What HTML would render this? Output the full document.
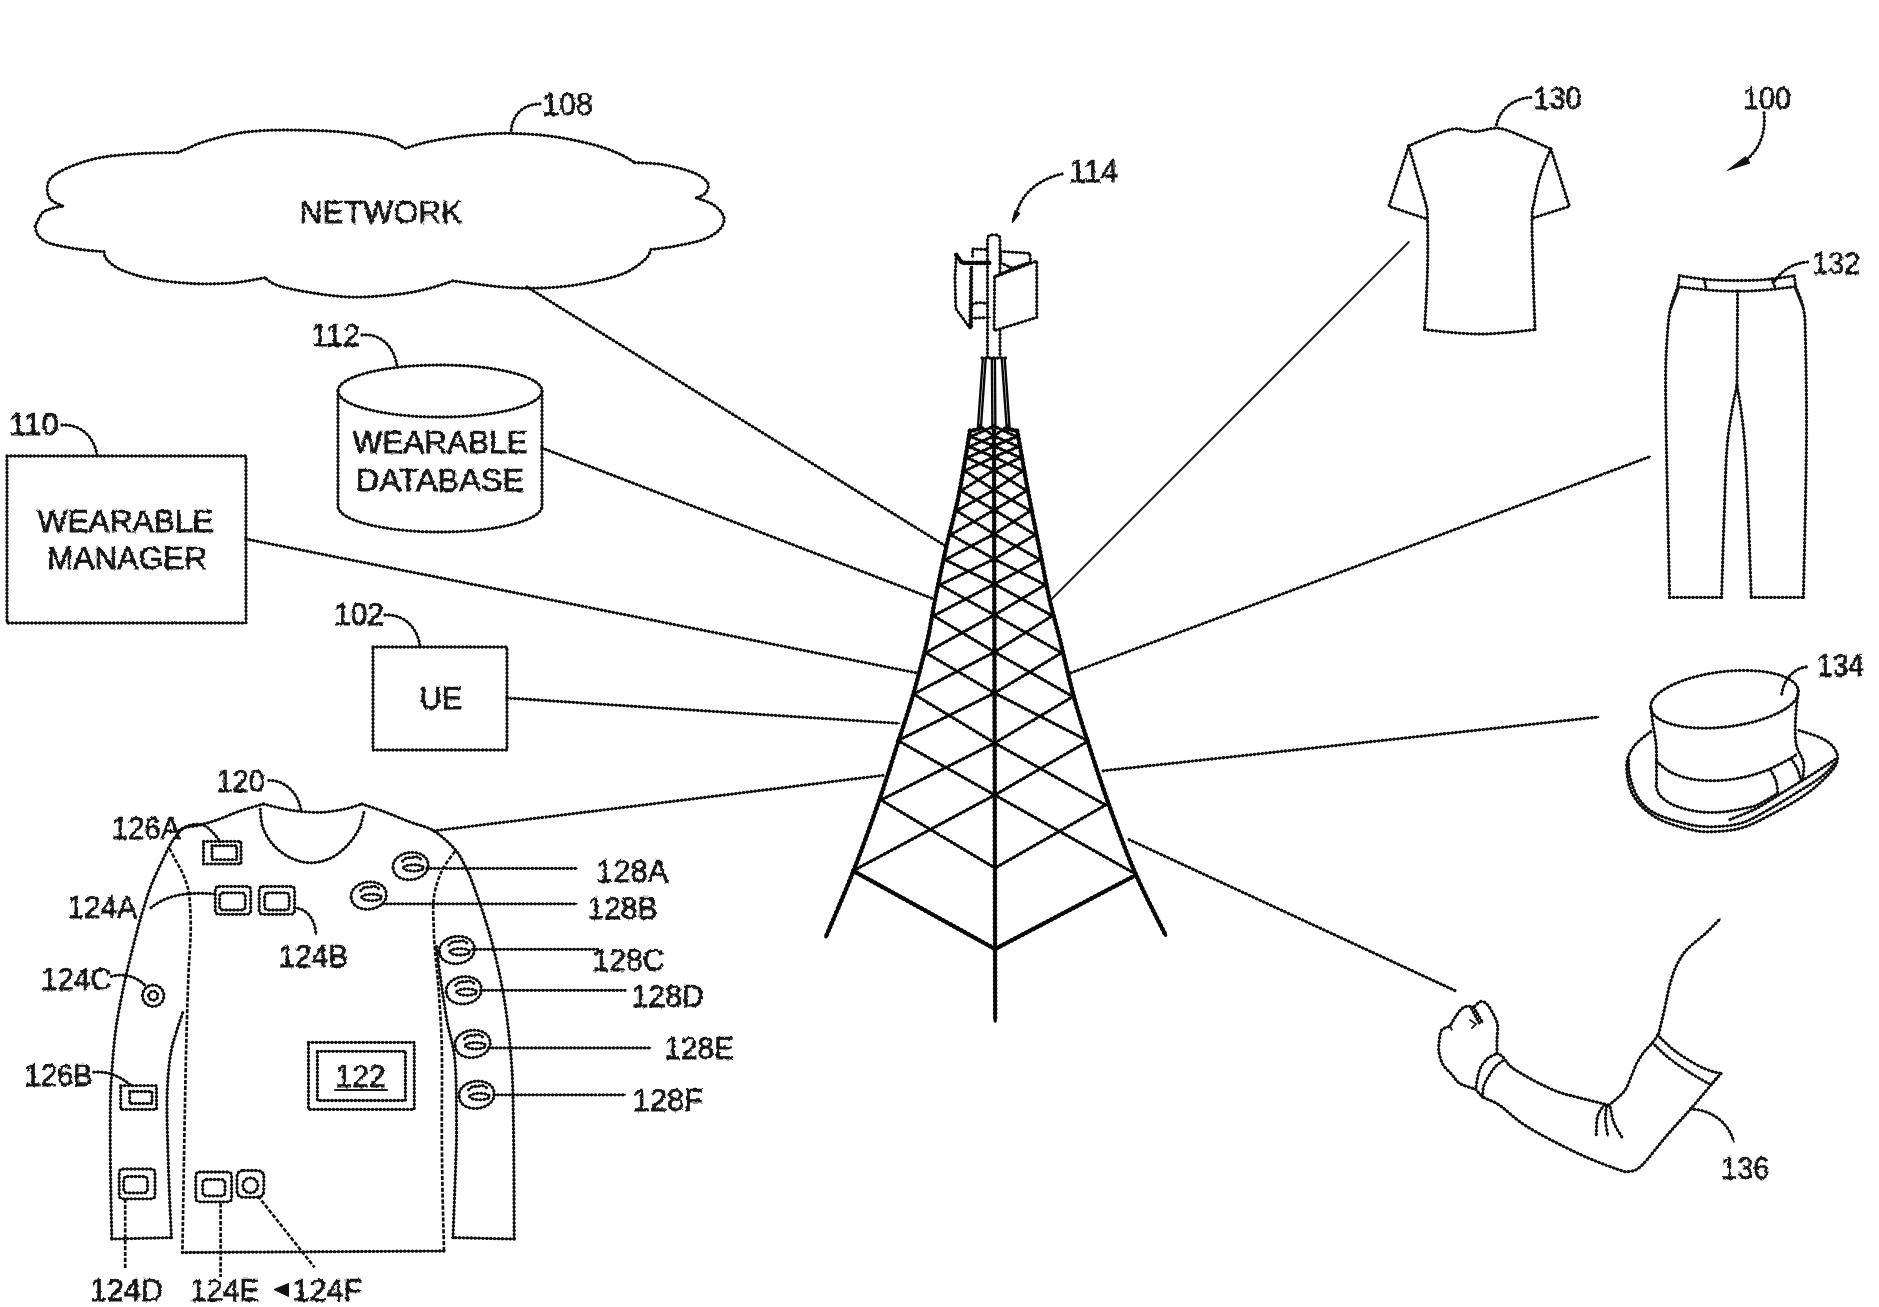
<!DOCTYPE html>
<html lang="en">
<head>
<meta charset="utf-8">
<title>FIG. 1 - wearable device network environment 100</title>
<style>
html,body{margin:0;padding:0;background:#fff;}
body{width:1879px;height:1307px;overflow:hidden;}
svg{display:block;}
.l{fill:none;stroke:#0d0d0d;stroke-width:1.4;stroke-linecap:round;stroke-linejoin:round;}
.lb{fill:none;stroke:#0d0d0d;stroke-width:3.3;stroke-linecap:round;stroke-linejoin:round;stroke-dasharray:0.1 3.8;}
.t{fill:none;stroke:#080808;stroke-width:3.3;stroke-linecap:round;stroke-linejoin:round;}
.tb{fill:none;stroke:#080808;stroke-width:4.7;stroke-linecap:round;stroke-dasharray:0.1 4;}
.m{fill:none;stroke:#080808;stroke-width:2;stroke-linecap:round;stroke-linejoin:round;}
.mb{fill:none;stroke:#080808;stroke-width:3.6;stroke-linecap:round;stroke-dasharray:0.1 3.8;}
.s{fill:none;stroke:#1a1a1a;stroke-width:2;stroke-linecap:round;stroke-linejoin:round;}
.d{fill:none;stroke:#0d0d0d;stroke-width:2.7;stroke-dasharray:4.2 1.7;stroke-linejoin:round;}
.k{fill:#111;stroke:#111;stroke-width:1;stroke-linejoin:round;}
.w{fill:#fff;stroke:#0d0d0d;stroke-width:1.4;stroke-linecap:round;stroke-linejoin:round;}
.u{fill:none;stroke:#0a0a0a;stroke-width:2.4;stroke-linecap:round;stroke-dasharray:5 0.7;}
text{font-family:"Liberation Sans",sans-serif;font-size:31px;fill:#151515;stroke:#151515;stroke-width:0.75;}
</style>
</head>
<body>
<svg width="1879" height="1307" viewBox="0 0 1879 1307">
<defs>
<filter id="rough" x="0" y="0" width="100%" height="100%" filterUnits="userSpaceOnUse" color-interpolation-filters="sRGB">
<feTurbulence type="fractalNoise" baseFrequency="0.3" numOctaves="1" seed="7" result="n"/>
<feDisplacementMap in="SourceGraphic" in2="n" scale="1.6" xChannelSelector="R" yChannelSelector="G"/>
</filter>
<filter id="roughText" x="0" y="0" width="100%" height="100%" filterUnits="userSpaceOnUse" color-interpolation-filters="sRGB">
<feTurbulence type="fractalNoise" baseFrequency="0.33" numOctaves="1" seed="3" result="n"/>
<feDisplacementMap in="SourceGraphic" in2="n" scale="4" xChannelSelector="R" yChannelSelector="G"/>
</filter>
</defs>
<rect x="0" y="0" width="1879" height="1307" fill="#ffffff"/>
<g filter="url(#rough)">
<!-- network cloud 108 -->
<path class="l x" d="M35.2 226.3 C36.4 224.1 39.4 216 42.2 213 C45 210 48.6 209.7 52 208.5 C55.4 207.3 60.8 206.4 62.5 206 M62.5 206 C60.5 204.8 52.8 202.2 50.3 199 C47.8 195.8 46.9 190.5 47.3 186.8 C47.6 183.1 48.5 180.1 52.4 176.7 C56.3 173.3 62.5 169.8 70.6 166.6 C78.7 163.4 89.1 159.7 100.9 157.5 C112.7 155.3 128.5 154.3 141.3 153.5 C154.1 152.7 171.6 152.7 177.7 152.5 M177.7 152.5 C179.4 151.8 183.8 150.1 187.8 148.4 C191.9 146.7 194.6 144.8 202 142.4 C209.4 140.1 222.2 136.3 232.3 134.3 C242.4 132.3 250.9 131.3 262.7 130.6 C274.5 129.9 289.6 129.9 303.1 130.2 C316.6 130.5 330.1 130.8 343.6 132.2 C357.1 133.5 373.7 135.6 384 138.3 C394.3 141 401.8 146.7 405.3 148.4 M405.3 148.4 C409.5 147.2 419.7 143.5 430.6 141.3 C441.6 139.1 457.9 136.6 471 135.3 C484.1 134 495.9 133.1 509.4 133.3 C522.9 133.5 538.1 134.5 551.9 136.3 C565.7 138.2 581.2 141.5 592.3 144.4 C603.4 147.3 611.5 150.5 618.6 153.5 C625.7 156.5 632.1 161.1 634.8 162.6 M634.8 162.6 C639.5 162.9 653.3 162.9 663.1 164.6 C672.9 166.3 686 169.7 693.4 172.7 C700.8 175.7 705.6 179.4 707.6 182.8 C709.6 186.2 707.5 190.4 705.6 192.9 C703.8 195.4 698 197.2 696.5 198 M696.5 198 C699.4 199.2 709.2 201.8 713.7 205 C718.2 208.2 722.8 213.1 723.8 217.2 C724.8 221.2 723.1 225.6 719.7 229.3 C716.3 233 711.4 236.5 703.6 239.4 C695.9 242.3 682 244.8 673.2 246.5 C664.4 248.2 654.7 249 651 249.5 M651 249.5 C650 251.2 649.6 255.6 644.9 259.6 C640.2 263.7 633.2 269.8 622.7 273.8 C612.2 277.9 595.7 281.5 582.2 283.9 C568.7 286.3 555.3 287.5 541.8 288 C528.3 288.5 516.1 288.1 501.3 286.9 C486.5 285.7 460.9 281.9 452.8 280.9 M452.8 280.9 C449.1 282.1 439.4 285.8 430.6 288 C421.8 290.2 413 292.5 400.2 294 C387.4 295.5 368.2 297.3 353.7 297.1 C339.2 296.9 325.7 294.9 313.2 293 C300.7 291.1 287 288.4 278.9 285.9 C270.8 283.4 267.1 279.1 264.7 277.8 M264.7 277.8 C259.3 278.6 244.4 281.9 232.3 282.9 C220.2 283.8 205.4 284.2 191.9 283.5 C178.4 282.8 163.2 281.2 151.4 278.9 C139.6 276.6 128.5 273 121.1 269.8 C113.7 266.6 109.9 262.6 107 259.6 C104.1 256.6 104.4 252.9 103.9 251.6 M103.9 251.6 C100 251.2 89.6 250.8 80.7 249.5 C71.8 248.2 57.4 245.8 50.3 243.5 C43.2 241.2 40.7 238.3 38.2 235.4 C35.7 232.5 35.7 227.8 35.2 226.3"/>
<path class="lb" d="M35.2 226.3 C36.4 224.1 39.4 216 42.2 213 C45 210 48.6 209.7 52 208.5 C55.4 207.3 60.8 206.4 62.5 206 M62.5 206 C60.5 204.8 52.8 202.2 50.3 199 C47.8 195.8 46.9 190.5 47.3 186.8 C47.6 183.1 48.5 180.1 52.4 176.7 C56.3 173.3 62.5 169.8 70.6 166.6 C78.7 163.4 89.1 159.7 100.9 157.5 C112.7 155.3 128.5 154.3 141.3 153.5 C154.1 152.7 171.6 152.7 177.7 152.5 M177.7 152.5 C179.4 151.8 183.8 150.1 187.8 148.4 C191.9 146.7 194.6 144.8 202 142.4 C209.4 140.1 222.2 136.3 232.3 134.3 C242.4 132.3 250.9 131.3 262.7 130.6 C274.5 129.9 289.6 129.9 303.1 130.2 C316.6 130.5 330.1 130.8 343.6 132.2 C357.1 133.5 373.7 135.6 384 138.3 C394.3 141 401.8 146.7 405.3 148.4 M405.3 148.4 C409.5 147.2 419.7 143.5 430.6 141.3 C441.6 139.1 457.9 136.6 471 135.3 C484.1 134 495.9 133.1 509.4 133.3 C522.9 133.5 538.1 134.5 551.9 136.3 C565.7 138.2 581.2 141.5 592.3 144.4 C603.4 147.3 611.5 150.5 618.6 153.5 C625.7 156.5 632.1 161.1 634.8 162.6 M634.8 162.6 C639.5 162.9 653.3 162.9 663.1 164.6 C672.9 166.3 686 169.7 693.4 172.7 C700.8 175.7 705.6 179.4 707.6 182.8 C709.6 186.2 707.5 190.4 705.6 192.9 C703.8 195.4 698 197.2 696.5 198 M696.5 198 C699.4 199.2 709.2 201.8 713.7 205 C718.2 208.2 722.8 213.1 723.8 217.2 C724.8 221.2 723.1 225.6 719.7 229.3 C716.3 233 711.4 236.5 703.6 239.4 C695.9 242.3 682 244.8 673.2 246.5 C664.4 248.2 654.7 249 651 249.5 M651 249.5 C650 251.2 649.6 255.6 644.9 259.6 C640.2 263.7 633.2 269.8 622.7 273.8 C612.2 277.9 595.7 281.5 582.2 283.9 C568.7 286.3 555.3 287.5 541.8 288 C528.3 288.5 516.1 288.1 501.3 286.9 C486.5 285.7 460.9 281.9 452.8 280.9 M452.8 280.9 C449.1 282.1 439.4 285.8 430.6 288 C421.8 290.2 413 292.5 400.2 294 C387.4 295.5 368.2 297.3 353.7 297.1 C339.2 296.9 325.7 294.9 313.2 293 C300.7 291.1 287 288.4 278.9 285.9 C270.8 283.4 267.1 279.1 264.7 277.8 M264.7 277.8 C259.3 278.6 244.4 281.9 232.3 282.9 C220.2 283.8 205.4 284.2 191.9 283.5 C178.4 282.8 163.2 281.2 151.4 278.9 C139.6 276.6 128.5 273 121.1 269.8 C113.7 266.6 109.9 262.6 107 259.6 C104.1 256.6 104.4 252.9 103.9 251.6 M103.9 251.6 C100 251.2 89.6 250.8 80.7 249.5 C71.8 248.2 57.4 245.8 50.3 243.5 C43.2 241.2 40.7 238.3 38.2 235.4 C35.7 232.5 35.7 227.8 35.2 226.3"/>
<path class="l x" d="M540 104 C524 104 512 114 511 132"/>
<path class="lb" d="M540 104 C524 104 512 114 511 132"/>
<!-- wearable database 112 -->
<path class="l x" d="M338 391 A102 26 0 1 0 542 391 A102 26 0 1 0 338 391Z"/>
<path class="lb" d="M338 391 A102 26 0 1 0 542 391 A102 26 0 1 0 338 391Z"/>
<path class="l x" d="M338 391 L338 506 A102 26 0 0 0 542 506 L542 391"/>
<path class="lb" d="M338 391 L338 506 A102 26 0 0 0 542 506 L542 391"/>
<path class="l x" d="M362 335 C380 333 394 346 397 366"/>
<path class="lb" d="M362 335 C380 333 394 346 397 366"/>
<!-- wearable manager 110 -->
<path class="l x" d="M7 456 H246 V623 H7Z"/>
<path class="lb" d="M7 456 H246 V623 H7Z"/>
<path class="l x" d="M62 425 C80 424 94 436 97 455"/>
<path class="lb" d="M62 425 C80 424 94 436 97 455"/>
<!-- user equipment 102 -->
<path class="l x" d="M373 647 H507 V750 H373Z"/>
<path class="lb" d="M373 647 H507 V750 H373Z"/>
<path class="l x" d="M385 615 C403 614 417 626 420 646"/>
<path class="lb" d="M385 615 C403 614 417 626 420 646"/>
<!-- communication links -->
<path class="l x" d="M527 287 L945.6 546"/>
<path class="lb" d="M527 287 L945.6 546"/>
<path class="l x" d="M542 448 L934.9 599.5"/>
<path class="lb" d="M542 448 L934.9 599.5"/>
<path class="l x" d="M246 539 L916.5 672.9"/>
<path class="lb" d="M246 539 L916.5 672.9"/>
<path class="l x" d="M507 698 L899.7 723.4"/>
<path class="lb" d="M507 698 L899.7 723.4"/>
<path class="l x" d="M433.8 830.9 L882.8 775.4"/>
<path class="lb" d="M433.8 830.9 L882.8 775.4"/>
<path class="s" d="M1051.2 599.5 L1408.8 242"/>
<path class="l x" d="M1071 672.9 L1650.3 456.5"/>
<path class="lb" d="M1071 672.9 L1650.3 456.5"/>
<path class="l x" d="M1103.2 770.8 L1598.7 717"/>
<path class="lb" d="M1103.2 770.8 L1598.7 717"/>
<path class="l x" d="M1129.2 839.7 L1454.8 990.5"/>
<path class="lb" d="M1129.2 839.7 L1454.8 990.5"/>
<!-- cell tower 114 -->
<path class="t x" d="M970 431 C968.1 441.8 962.5 476.8 958.6 496 C954.7 515.2 950.4 528.7 946.5 546 C942.6 563.3 938.2 584.3 935 600 C931.8 615.7 931.1 624.2 927.5 640 C923.9 655.8 918 677.7 913.2 694.5 C908.4 711.3 904.2 723.2 898.5 741 C892.8 758.8 886.5 779.4 879 801 C871.5 822.6 862.5 847.9 853.6 870.5 C844.8 893.1 830.5 925.8 825.9 936.8"/>
<path class="tb" d="M970 431 C968.1 441.8 962.5 476.8 958.6 496 C954.7 515.2 950.4 528.7 946.5 546 C942.6 563.3 938.2 584.3 935 600 C931.8 615.7 931.1 624.2 927.5 640 C923.9 655.8 918 677.7 913.2 694.5 C908.4 711.3 904.2 723.2 898.5 741 C892.8 758.8 886.5 779.4 879 801 C871.5 822.6 862.5 847.9 853.6 870.5 C844.8 893.1 830.5 925.8 825.9 936.8"/>
<path class="t x" d="M1017.2 431 C1019.2 441.8 1025.2 476.5 1028.9 496 C1032.6 515.5 1035.8 530.7 1039.3 548 C1042.8 565.3 1046.2 584.7 1049.7 600 C1053.2 615.3 1056 623.9 1060 640 C1064 656.1 1069.2 679.8 1073.8 696.6 C1078.4 713.4 1081.6 722.9 1087.5 741 C1093.4 759.1 1101.1 783.1 1109 805 C1116.9 826.9 1125.6 850.9 1135 872.6 C1144.4 894.3 1160.5 924.8 1165.6 935.3"/>
<path class="tb" d="M1017.2 431 C1019.2 441.8 1025.2 476.5 1028.9 496 C1032.6 515.5 1035.8 530.7 1039.3 548 C1042.8 565.3 1046.2 584.7 1049.7 600 C1053.2 615.3 1056 623.9 1060 640 C1064 656.1 1069.2 679.8 1073.8 696.6 C1078.4 713.4 1081.6 722.9 1087.5 741 C1093.4 759.1 1101.1 783.1 1109 805 C1116.9 826.9 1125.6 850.9 1135 872.6 C1144.4 894.3 1160.5 924.8 1165.6 935.3"/>
<path class="t x" d="M994 431 L995.2 1021"/>
<path class="tb" d="M994 431 L995.2 1021"/>
<path class="m x" d="M979.6 426 L994 436"/>
<path class="mb" d="M979.6 426 L994 436"/>
<path class="m x" d="M994 426 L969.1 437.5"/>
<path class="mb" d="M994 426 L969.1 437.5"/>
<path class="m x" d="M1007.9 426 L994 436"/>
<path class="mb" d="M1007.9 426 L994 436"/>
<path class="m x" d="M994 426 L1018.1 437.5"/>
<path class="mb" d="M994 426 L1018.1 437.5"/>
<path class="m x" d="M969.1 436 L994 446"/>
<path class="mb" d="M969.1 436 L994 446"/>
<path class="m x" d="M994 436 L967.4 447.5"/>
<path class="mb" d="M994 436 L967.4 447.5"/>
<path class="m x" d="M1018.1 436 L994 446"/>
<path class="mb" d="M1018.1 436 L994 446"/>
<path class="m x" d="M994 436 L1019.9 447.5"/>
<path class="mb" d="M994 436 L1019.9 447.5"/>
<path class="m x" d="M967.4 446 L994.1 457"/>
<path class="mb" d="M967.4 446 L994.1 457"/>
<path class="m x" d="M994 446 L965.4 458.5"/>
<path class="mb" d="M994 446 L965.4 458.5"/>
<path class="m x" d="M1019.9 446 L994.1 457"/>
<path class="mb" d="M1019.9 446 L994.1 457"/>
<path class="m x" d="M994 446 L1021.9 458.5"/>
<path class="mb" d="M994 446 L1021.9 458.5"/>
<path class="m x" d="M965.4 457 L994.1 470"/>
<path class="mb" d="M965.4 457 L994.1 470"/>
<path class="m x" d="M994.1 457 L963.2 471.5"/>
<path class="mb" d="M994.1 457 L963.2 471.5"/>
<path class="m x" d="M1021.9 457 L994.1 470"/>
<path class="mb" d="M1021.9 457 L994.1 470"/>
<path class="m x" d="M994.1 457 L1024.2 471.5"/>
<path class="mb" d="M994.1 457 L1024.2 471.5"/>
<path class="m x" d="M963.2 470 L994.1 490"/>
<path class="mb" d="M963.2 470 L994.1 490"/>
<path class="m x" d="M994.1 470 L959.7 491.5"/>
<path class="mb" d="M994.1 470 L959.7 491.5"/>
<path class="m x" d="M1024.2 470 L994.1 490"/>
<path class="mb" d="M1024.2 470 L994.1 490"/>
<path class="m x" d="M994.1 470 L1027.8 491.5"/>
<path class="mb" d="M994.1 470 L1027.8 491.5"/>
<path class="m x" d="M959.7 490 L994.2 510"/>
<path class="mb" d="M959.7 490 L994.2 510"/>
<path class="m x" d="M994.1 490 L955.2 511.5"/>
<path class="mb" d="M994.1 490 L955.2 511.5"/>
<path class="m x" d="M1027.8 490 L994.2 510"/>
<path class="mb" d="M1027.8 490 L994.2 510"/>
<path class="m x" d="M994.1 490 L1031.7 511.5"/>
<path class="mb" d="M994.1 490 L1031.7 511.5"/>
<path class="m x" d="M955.2 510 L994.2 534"/>
<path class="mb" d="M955.2 510 L994.2 534"/>
<path class="m x" d="M994.2 510 L949.4 535.5"/>
<path class="mb" d="M994.2 510 L949.4 535.5"/>
<path class="m x" d="M1031.7 510 L994.2 534"/>
<path class="mb" d="M1031.7 510 L994.2 534"/>
<path class="m x" d="M994.2 510 L1036.5 535.5"/>
<path class="mb" d="M994.2 510 L1036.5 535.5"/>
<path class="m x" d="M949.4 534 L994.3 559"/>
<path class="mb" d="M949.4 534 L994.3 559"/>
<path class="m x" d="M994.2 534 L943.7 560.5"/>
<path class="mb" d="M994.2 534 L943.7 560.5"/>
<path class="m x" d="M1036.5 534 L994.3 559"/>
<path class="mb" d="M1036.5 534 L994.3 559"/>
<path class="m x" d="M994.2 534 L1041.5 560.5"/>
<path class="mb" d="M994.2 534 L1041.5 560.5"/>
<path class="m x" d="M943.7 559 L994.4 584"/>
<path class="mb" d="M943.7 559 L994.4 584"/>
<path class="m x" d="M994.3 559 L938.4 585.5"/>
<path class="mb" d="M994.3 559 L938.4 585.5"/>
<path class="m x" d="M1041.5 559 L994.4 584"/>
<path class="mb" d="M1041.5 559 L994.4 584"/>
<path class="m x" d="M994.3 559 L1046.5 585.5"/>
<path class="mb" d="M994.3 559 L1046.5 585.5"/>
<path class="m x" d="M938.4 584 L994.4 615"/>
<path class="mb" d="M938.4 584 L994.4 615"/>
<path class="m x" d="M994.4 584 L932.2 616.5"/>
<path class="mb" d="M994.4 584 L932.2 616.5"/>
<path class="m x" d="M1046.5 584 L994.4 615"/>
<path class="mb" d="M1046.5 584 L994.4 615"/>
<path class="m x" d="M994.4 584 L1053.6 616.5"/>
<path class="mb" d="M994.4 584 L1053.6 616.5"/>
<path class="m x" d="M932.2 615 L994.5 652"/>
<path class="mb" d="M932.2 615 L994.5 652"/>
<path class="m x" d="M994.4 615 L924.4 653.5"/>
<path class="mb" d="M994.4 615 L924.4 653.5"/>
<path class="m x" d="M1053.6 615 L994.5 652"/>
<path class="mb" d="M1053.6 615 L994.5 652"/>
<path class="m x" d="M994.4 615 L1062.9 653.5"/>
<path class="mb" d="M994.4 615 L1062.9 653.5"/>
<path class="m x" d="M924.4 652 L994.6 693"/>
<path class="mb" d="M924.4 652 L994.6 693"/>
<path class="m x" d="M994.5 652 L913.6 694"/>
<path class="mb" d="M994.5 652 L913.6 694"/>
<path class="m x" d="M1062.9 652 L994.6 693"/>
<path class="mb" d="M1062.9 652 L994.6 693"/>
<path class="m x" d="M994.5 652 L1072.9 696.6"/>
<path class="mb" d="M994.5 652 L1072.9 696.6"/>
<path class="m x" d="M913.6 694 L994.7 743"/>
<path class="mb" d="M913.6 694 L994.7 743"/>
<path class="m x" d="M994.6 693 L897.9 740.5"/>
<path class="mb" d="M994.6 693 L897.9 740.5"/>
<path class="m x" d="M1072.9 696.6 L994.7 743"/>
<path class="mb" d="M1072.9 696.6 L994.7 743"/>
<path class="m x" d="M994.6 693 L1088.2 741"/>
<path class="mb" d="M994.6 693 L1088.2 741"/>
<path class="m x" d="M897.9 740.5 L994.8 795"/>
<path class="mb" d="M897.9 740.5 L994.8 795"/>
<path class="m x" d="M994.7 743 L881 800"/>
<path class="mb" d="M994.7 743 L881 800"/>
<path class="m x" d="M1088.2 741 L994.8 795"/>
<path class="mb" d="M1088.2 741 L994.8 795"/>
<path class="m x" d="M994.7 743 L1105.6 805"/>
<path class="mb" d="M994.7 743 L1105.6 805"/>
<path class="m x" d="M881 800 L995 868"/>
<path class="mb" d="M881 800 L995 868"/>
<path class="m x" d="M994.8 795 L854.5 870"/>
<path class="mb" d="M994.8 795 L854.5 870"/>
<path class="m x" d="M1105.6 805 L995 868"/>
<path class="mb" d="M1105.6 805 L995 868"/>
<path class="m x" d="M994.8 795 L1133.2 872.6"/>
<path class="mb" d="M994.8 795 L1133.2 872.6"/>
<path class="t x" d="M853.4 871 L995.1 949 L1135 875.6"/>
<path class="tb" d="M853.4 871 L995.1 949 L1135 875.6"/>
<path class="t x" d="M970 431 L979 429 M1008 429 L1017.2 431"/>
<path class="tb" d="M970 431 L979 429 M1008 429 L1017.2 431"/>
<path class="u" d="M985.7 359 L980.8 429"/>
<path class="u" d="M982.8 359 L977.8 429"/>
<path class="u" d="M994.9 359 L995.4 429"/>
<path class="u" d="M991.9 359 L992.4 429"/>
<path class="u" d="M1004.7 359 L1009.7 429"/>
<path class="u" d="M1001.8 359 L1006.8 429"/>
<path class="l x" d="M982 358 L1006 358"/>
<path class="lb" d="M982 358 L1006 358"/>
<path class="l x" d="M972.6 256 L972.6 248.8 L987.5 249.6 M972.6 304.2 Q980 301 987.5 304.2 M971.7 318.3 L990.2 317.4"/>
<path class="lb" d="M972.6 256 L972.6 248.8 L987.5 249.6 M972.6 304.2 Q980 301 987.5 304.2 M971.7 318.3 L990.2 317.4"/>
<path class="l x" d="M987.5 357 L987.5 239 Q987.5 234.7 993.7 234.7 Q1000 234.7 1000 239 L1000 357"/>
<path class="lb" d="M987.5 357 L987.5 239 Q987.5 234.7 993.7 234.7 Q1000 234.7 1000 239 L1000 357"/>
<path class="l x" d="M956.3 254.9 L955 277.8 L955.8 308.6 L969.9 328 L970.8 267.3"/>
<path class="lb" d="M956.3 254.9 L955 277.8 L955.8 308.6 L969.9 328 L970.8 267.3"/>
<path class="l x" d="M971.6 267.3 L971.6 328"/>
<path class="lb" d="M971.6 267.3 L971.6 328"/>
<path class="t x" d="M956.3 254.9 L962 262.9 L989.3 262.9"/>
<path class="tb" d="M956.3 254.9 L962 262.9 L989.3 262.9"/>
<path class="w x" d="M994.6 277 L1036.8 261 L1036.8 317.4 L999.9 328.9 L994.1 330.6 Z"/>
<path class="lb" d="M994.6 277 L1036.8 261 L1036.8 317.4 L999.9 328.9 L994.1 330.6 Z"/>
<path class="l x" d="M1000.7 251.4 L1029.8 253.2 L1030.7 262.9 M1000.7 262.9 L1012.2 268.2 L1031 262 M996 276 L1006.5 271.5 L1012.2 268.2"/>
<path class="lb" d="M1000.7 251.4 L1029.8 253.2 L1030.7 262.9 M1000.7 262.9 L1012.2 268.2 L1031 262 M996 276 L1006.5 271.5 L1012.2 268.2"/>
<path class="l x" d="M1000.7 251.4 L1000.7 262.9"/>
<path class="lb" d="M1000.7 251.4 L1000.7 262.9"/>
<path class="l x" d="M1062 174 C1043 178 1024 190 1017.5 210"/>
<path class="lb" d="M1062 174 C1043 178 1024 190 1017.5 210"/>
<path class="k" d="M1012.3 222.5 L1014.8 210.5 L1020 213.5Z"/>
<path class="l x" d="M1016.5 212 L1012.5 222"/>
<path class="lb" d="M1016.5 212 L1012.5 222"/>
<!-- smart shirt 120 -->
<path class="l x" d="M263.5 804 C266.6 804.8 275.9 807.3 282 808.5 C288.1 809.7 293.3 810.8 300 811.4 C306.7 812 314.5 812.7 322 812.3 C329.5 811.9 338.3 810.4 345 809 C351.7 807.6 359.2 804.8 362 804"/>
<path class="lb" d="M263.5 804 C266.6 804.8 275.9 807.3 282 808.5 C288.1 809.7 293.3 810.8 300 811.4 C306.7 812 314.5 812.7 322 812.3 C329.5 811.9 338.3 810.4 345 809 C351.7 807.6 359.2 804.8 362 804"/>
<path class="l x" d="M260.3 809.3 C260.8 812.4 260.7 821.9 263 828 C265.3 834.1 269.3 840.7 274 845.7 C278.7 850.7 284.9 855.1 291 858 C297.1 860.9 304 862.8 310.7 862.8 C317.4 862.8 324.9 860.9 331 858 C337.1 855.1 342.3 850.5 347 845.7 C351.7 840.9 356.1 834.7 359 829 C361.9 823.3 363.3 814.3 364.2 811.4"/>
<path class="lb" d="M260.3 809.3 C260.8 812.4 260.7 821.9 263 828 C265.3 834.1 269.3 840.7 274 845.7 C278.7 850.7 284.9 855.1 291 858 C297.1 860.9 304 862.8 310.7 862.8 C317.4 862.8 324.9 860.9 331 858 C337.1 855.1 342.3 850.5 347 845.7 C351.7 840.9 356.1 834.7 359 829 C361.9 823.3 363.3 814.3 364.2 811.4"/>
<path class="l x" d="M263.5 804 C259.6 805.2 247.8 808.3 240 811 C232.2 813.7 224 817.6 217 820 C210 822.4 203.5 824.2 198 825.5 C192.5 826.8 187.7 826.2 184 828 C180.3 829.8 178.5 832.8 176 836 C173.5 839.2 172 841.3 169 847 C166 852.7 161.2 863.1 158 870 C154.8 876.9 152.5 881.8 150 888.5 C147.5 895.2 145.2 902.9 143 910 C140.8 917.1 139.8 920.7 137 931.4 C134.2 942.1 129.4 960.9 126.4 974 C123.4 987.1 121 999 119 1010 C117 1021 115.8 1028.3 114.5 1040 C113.2 1051.7 112 1068.4 111.3 1080 C110.6 1091.6 110.4 1094.4 110.3 1109.4 C110.2 1124.4 110.2 1148.4 110.5 1170 C110.8 1191.6 111.6 1227.5 111.8 1239"/>
<path class="lb" d="M263.5 804 C259.6 805.2 247.8 808.3 240 811 C232.2 813.7 224 817.6 217 820 C210 822.4 203.5 824.2 198 825.5 C192.5 826.8 187.7 826.2 184 828 C180.3 829.8 178.5 832.8 176 836 C173.5 839.2 172 841.3 169 847 C166 852.7 161.2 863.1 158 870 C154.8 876.9 152.5 881.8 150 888.5 C147.5 895.2 145.2 902.9 143 910 C140.8 917.1 139.8 920.7 137 931.4 C134.2 942.1 129.4 960.9 126.4 974 C123.4 987.1 121 999 119 1010 C117 1021 115.8 1028.3 114.5 1040 C113.2 1051.7 112 1068.4 111.3 1080 C110.6 1091.6 110.4 1094.4 110.3 1109.4 C110.2 1124.4 110.2 1148.4 110.5 1170 C110.8 1191.6 111.6 1227.5 111.8 1239"/>
<path class="l x" d="M111.8 1239 L171.4 1237.6"/>
<path class="lb" d="M111.8 1239 L171.4 1237.6"/>
<path class="l x" d="M171.4 1237.6 C170.9 1226.3 169.2 1191.4 168.5 1170 C167.8 1148.6 167.1 1125.2 167 1109.4 C166.9 1093.6 167.5 1084.9 168.2 1075 C168.9 1065.1 170.1 1056.8 171.4 1049.8 C172.7 1042.8 174.1 1039.3 176 1033 C177.9 1026.7 181.8 1015.5 183 1012"/>
<path class="lb" d="M171.4 1237.6 C170.9 1226.3 169.2 1191.4 168.5 1170 C167.8 1148.6 167.1 1125.2 167 1109.4 C166.9 1093.6 167.5 1084.9 168.2 1075 C168.9 1065.1 170.1 1056.8 171.4 1049.8 C172.7 1042.8 174.1 1039.3 176 1033 C177.9 1026.7 181.8 1015.5 183 1012"/>
<path class="d" d="M169.5 848.5 C170.6 850.6 173.9 857.1 176 861 C178.1 864.9 180.2 868 182 872 C183.8 876 185.7 880.5 187 885 C188.3 889.5 189 891.3 189.6 899 C190.2 906.7 190.9 918.9 190.7 931.4 C190.5 943.9 189.2 956.1 188.5 974 C187.8 991.9 187.1 1012.5 186.4 1038.5 C185.7 1064.5 185.2 1094.3 184.5 1130 C183.8 1165.7 182.8 1232.1 182.4 1252.5"/>
<path class="l x" d="M182.4 1252.5 L444 1251"/>
<path class="lb" d="M182.4 1252.5 L444 1251"/>
<path class="d" d="M444 1251 C443.8 1240.8 442.9 1210.5 442.5 1190 C442.1 1169.5 441.9 1151.7 441.8 1128 C441.7 1104.3 442.3 1070.2 441.8 1047.9 C441.3 1025.6 440.1 1010.6 439 994.3 C437.9 978 435.9 960.7 435 950 C434.1 939.3 434 938.7 433.8 930 C433.6 921.3 432.5 907.7 433.8 897.9 C435.1 888.1 438.2 878.8 441.8 871 C445.4 863.2 453 854.3 455.2 851"/>
<path class="l x" d="M362 804 C365.8 805.3 377 809 385 812 C393 815 401.9 818.9 410 822 C418.1 825.1 426.3 826.3 433.8 830.9 C441.3 835.5 449.8 843.4 455.2 849.6 C460.6 855.8 462.9 861.8 466 868 C469.1 874.2 470 875.8 474 887 C478 898.2 485.1 917.5 490 935.4 C494.9 953.3 499.8 973.3 503.4 994.3 C507 1015.3 509.7 1039 511.4 1061.3 C513.1 1083.6 513 1098.4 513.5 1128 C514 1157.6 514.1 1220.5 514.2 1239"/>
<path class="lb" d="M362 804 C365.8 805.3 377 809 385 812 C393 815 401.9 818.9 410 822 C418.1 825.1 426.3 826.3 433.8 830.9 C441.3 835.5 449.8 843.4 455.2 849.6 C460.6 855.8 462.9 861.8 466 868 C469.1 874.2 470 875.8 474 887 C478 898.2 485.1 917.5 490 935.4 C494.9 953.3 499.8 973.3 503.4 994.3 C507 1015.3 509.7 1039 511.4 1061.3 C513.1 1083.6 513 1098.4 513.5 1128 C514 1157.6 514.1 1220.5 514.2 1239"/>
<path class="l x" d="M514.2 1239 L453 1237.6"/>
<path class="lb" d="M514.2 1239 L453 1237.6"/>
<path class="l x" d="M453 1237.6 C453.4 1226.3 454.9 1188.3 455.5 1170 C456.1 1151.7 456.6 1146.2 456.5 1128 C456.4 1109.8 456.6 1078.8 455 1061 C453.4 1043.2 449.5 1035.3 447 1021 C444.5 1006.7 441.8 987.5 440 975 C438.2 962.5 437 950.8 436.4 946"/>
<path class="lb" d="M453 1237.6 C453.4 1226.3 454.9 1188.3 455.5 1170 C456.1 1151.7 456.6 1146.2 456.5 1128 C456.4 1109.8 456.6 1078.8 455 1061 C453.4 1043.2 449.5 1035.3 447 1021 C444.5 1006.7 441.8 987.5 440 975 C438.2 962.5 437 950.8 436.4 946"/>
<!-- display 122 -->
<path class="l x" d="M308.5 1042.4 H414.3 V1109.4 H308.5Z"/>
<path class="lb" d="M308.5 1042.4 H414.3 V1109.4 H308.5Z"/>
<path class="l x" d="M317.4 1051.3 H405.4 V1100.5 H317.4Z"/>
<path class="lb" d="M317.4 1051.3 H405.4 V1100.5 H317.4Z"/>
<path class="s" d="M335 1090 L387 1090"/>
<!-- sensors 124 / 126 -->
<path class="l x" d="M203.5 841.4 H241 V863.9 H203.5Z"/>
<path class="lb" d="M203.5 841.4 H241 V863.9 H203.5Z"/>
<path class="l x" d="M212 845.7 H236.7 V859.6 H212Z"/>
<path class="lb" d="M212 845.7 H236.7 V859.6 H212Z"/>
<path class="l x" d="M219.3 886.4 H246.7 Q250.7 886.4 250.7 890.4 V910.3 Q250.7 914.3 246.7 914.3 H219.3 Q215.3 914.3 215.3 910.3 V890.4 Q215.3 886.4 219.3 886.4Z"/>
<path class="lb" d="M219.3 886.4 H246.7 Q250.7 886.4 250.7 890.4 V910.3 Q250.7 914.3 246.7 914.3 H219.3 Q215.3 914.3 215.3 910.3 V890.4 Q215.3 886.4 219.3 886.4Z"/>
<path class="l x" d="M223.6 892.8 H241.3 Q245.3 892.8 245.3 896.8 V906 Q245.3 910 241.3 910 H223.6 Q219.6 910 219.6 906 V896.8 Q219.6 892.8 223.6 892.8Z"/>
<path class="lb" d="M223.6 892.8 H241.3 Q245.3 892.8 245.3 896.8 V906 Q245.3 910 241.3 910 H223.6 Q219.6 910 219.6 906 V896.8 Q219.6 892.8 223.6 892.8Z"/>
<path class="l x" d="M263.2 886.4 H290.6 Q294.6 886.4 294.6 890.4 V910.3 Q294.6 914.3 290.6 914.3 H263.2 Q259.2 914.3 259.2 910.3 V890.4 Q259.2 886.4 263.2 886.4Z"/>
<path class="lb" d="M263.2 886.4 H290.6 Q294.6 886.4 294.6 890.4 V910.3 Q294.6 914.3 290.6 914.3 H263.2 Q259.2 914.3 259.2 910.3 V890.4 Q259.2 886.4 263.2 886.4Z"/>
<path class="l x" d="M268.6 892.8 H285.2 Q289.2 892.8 289.2 896.8 V906 Q289.2 910 285.2 910 H268.6 Q264.6 910 264.6 906 V896.8 Q264.6 892.8 268.6 892.8Z"/>
<path class="lb" d="M268.6 892.8 H285.2 Q289.2 892.8 289.2 896.8 V906 Q289.2 910 285.2 910 H268.6 Q264.6 910 264.6 906 V896.8 Q264.6 892.8 268.6 892.8Z"/>
<path class="l x" d="M123.2 1169 H151 Q155 1169 155 1173 V1194.8 Q155 1198.8 151 1198.8 H123.2 Q119.2 1198.8 119.2 1194.8 V1173 Q119.2 1169 123.2 1169Z"/>
<path class="lb" d="M123.2 1169 H151 Q155 1169 155 1173 V1194.8 Q155 1198.8 151 1198.8 H123.2 Q119.2 1198.8 119.2 1194.8 V1173 Q119.2 1169 123.2 1169Z"/>
<path class="l x" d="M127.7 1176.5 H143.5 Q147.5 1176.5 147.5 1180.5 V1188.9 Q147.5 1192.9 143.5 1192.9 H127.7 Q123.7 1192.9 123.7 1188.9 V1180.5 Q123.7 1176.5 127.7 1176.5Z"/>
<path class="lb" d="M127.7 1176.5 H143.5 Q147.5 1176.5 147.5 1180.5 V1188.9 Q147.5 1192.9 143.5 1192.9 H127.7 Q123.7 1192.9 123.7 1188.9 V1180.5 Q123.7 1176.5 127.7 1176.5Z"/>
<path class="l x" d="M199.8 1172 H227.6 Q231.6 1172 231.6 1176 V1197.8 Q231.6 1201.8 227.6 1201.8 H199.8 Q195.8 1201.8 195.8 1197.8 V1176 Q195.8 1172 199.8 1172Z"/>
<path class="lb" d="M199.8 1172 H227.6 Q231.6 1172 231.6 1176 V1197.8 Q231.6 1201.8 227.6 1201.8 H199.8 Q195.8 1201.8 195.8 1197.8 V1176 Q195.8 1172 199.8 1172Z"/>
<path class="l x" d="M206.7 1179.5 H221 Q225 1179.5 225 1183.5 V1191.9 Q225 1195.9 221 1195.9 H206.7 Q202.7 1195.9 202.7 1191.9 V1183.5 Q202.7 1179.5 206.7 1179.5Z"/>
<path class="lb" d="M206.7 1179.5 H221 Q225 1179.5 225 1183.5 V1191.9 Q225 1195.9 221 1195.9 H206.7 Q202.7 1195.9 202.7 1191.9 V1183.5 Q202.7 1179.5 206.7 1179.5Z"/>
<path class="l x" d="M120.7 1085.6 H156.5 V1109.4 H120.7Z"/>
<path class="lb" d="M120.7 1085.6 H156.5 V1109.4 H120.7Z"/>
<path class="l x" d="M129.7 1091.5 H152 V1103.5 H129.7Z"/>
<path class="lb" d="M129.7 1091.5 H152 V1103.5 H129.7Z"/>
<path class="l x" d="M142.5 995.7 A10.7 10.7 0 1 0 163.9 995.7 A10.7 10.7 0 1 0 142.5 995.7Z"/>
<path class="lb" d="M142.5 995.7 A10.7 10.7 0 1 0 163.9 995.7 A10.7 10.7 0 1 0 142.5 995.7Z"/>
<path class="l x" d="M148.6 995.7 A4.6 4.6 0 1 0 157.8 995.7 A4.6 4.6 0 1 0 148.6 995.7Z"/>
<path class="lb" d="M148.6 995.7 A4.6 4.6 0 1 0 157.8 995.7 A4.6 4.6 0 1 0 148.6 995.7Z"/>
<path class="l x" d="M244 1170.5 H256.8 Q263.8 1170.5 263.8 1177.5 V1190.3 Q263.8 1197.3 256.8 1197.3 H244 Q237 1197.3 237 1190.3 V1177.5 Q237 1170.5 244 1170.5Z"/>
<path class="lb" d="M244 1170.5 H256.8 Q263.8 1170.5 263.8 1177.5 V1190.3 Q263.8 1197.3 256.8 1197.3 H244 Q237 1197.3 237 1190.3 V1177.5 Q237 1170.5 244 1170.5Z"/>
<path class="l x" d="M242.9 1185.4 A7.5 7.5 0 1 0 257.9 1185.4 A7.5 7.5 0 1 0 242.9 1185.4Z"/>
<path class="lb" d="M242.9 1185.4 A7.5 7.5 0 1 0 257.9 1185.4 A7.5 7.5 0 1 0 242.9 1185.4Z"/>
<!-- conductive buttons 128 -->
<path class="l x" d="M393.2 868.5 A17.6 12.8 -8 1 0 428 863.7 A17.6 12.8 -8 1 0 393.2 868.5Z"/>
<path class="lb" d="M393.2 868.5 A17.6 12.8 -8 1 0 428 863.7 A17.6 12.8 -8 1 0 393.2 868.5Z"/>
<path class="l x" d="M403.6 867.9 A10 3.2 0 1 0 423.6 867.9 A10 3.2 0 1 0 403.6 867.9Z"/>
<path class="lb" d="M403.6 867.9 A10 3.2 0 1 0 423.6 867.9 A10 3.2 0 1 0 403.6 867.9Z"/>
<path class="l x" d="M402.6 861.1 q4 -5 9 -3 q5 -3 9 1"/>
<path class="lb" d="M402.6 861.1 q4 -5 9 -3 q5 -3 9 1"/>
<path class="l x" d="M351.3 898 A17.6 12.8 -8 1 0 386.1 893.2 A17.6 12.8 -8 1 0 351.3 898Z"/>
<path class="lb" d="M351.3 898 A17.6 12.8 -8 1 0 386.1 893.2 A17.6 12.8 -8 1 0 351.3 898Z"/>
<path class="l x" d="M361.7 897.4 A10 3.2 0 1 0 381.7 897.4 A10 3.2 0 1 0 361.7 897.4Z"/>
<path class="lb" d="M361.7 897.4 A10 3.2 0 1 0 381.7 897.4 A10 3.2 0 1 0 361.7 897.4Z"/>
<path class="l x" d="M360.7 890.6 q4 -5 9 -3 q5 -3 9 1"/>
<path class="lb" d="M360.7 890.6 q4 -5 9 -3 q5 -3 9 1"/>
<path class="l x" d="M439.5 952.4 A17.6 12.8 -8 1 0 474.3 947.6 A17.6 12.8 -8 1 0 439.5 952.4Z"/>
<path class="lb" d="M439.5 952.4 A17.6 12.8 -8 1 0 474.3 947.6 A17.6 12.8 -8 1 0 439.5 952.4Z"/>
<path class="l x" d="M449.9 951.8 A10 3.2 0 1 0 469.9 951.8 A10 3.2 0 1 0 449.9 951.8Z"/>
<path class="lb" d="M449.9 951.8 A10 3.2 0 1 0 469.9 951.8 A10 3.2 0 1 0 449.9 951.8Z"/>
<path class="l x" d="M448.9 945.0 q4 -5 9 -3 q5 -3 9 1"/>
<path class="lb" d="M448.9 945.0 q4 -5 9 -3 q5 -3 9 1"/>
<path class="l x" d="M446.4 992.7 A17.6 12.8 -8 1 0 481.2 987.9 A17.6 12.8 -8 1 0 446.4 992.7Z"/>
<path class="lb" d="M446.4 992.7 A17.6 12.8 -8 1 0 481.2 987.9 A17.6 12.8 -8 1 0 446.4 992.7Z"/>
<path class="l x" d="M456.8 992.1 A10 3.2 0 1 0 476.8 992.1 A10 3.2 0 1 0 456.8 992.1Z"/>
<path class="lb" d="M456.8 992.1 A10 3.2 0 1 0 476.8 992.1 A10 3.2 0 1 0 456.8 992.1Z"/>
<path class="l x" d="M455.8 985.3 q4 -5 9 -3 q5 -3 9 1"/>
<path class="lb" d="M455.8 985.3 q4 -5 9 -3 q5 -3 9 1"/>
<path class="l x" d="M455.2 1046.3 A17.6 12.8 -8 1 0 490 1041.5 A17.6 12.8 -8 1 0 455.2 1046.3Z"/>
<path class="lb" d="M455.2 1046.3 A17.6 12.8 -8 1 0 490 1041.5 A17.6 12.8 -8 1 0 455.2 1046.3Z"/>
<path class="l x" d="M465.6 1045.7 A10 3.2 0 1 0 485.6 1045.7 A10 3.2 0 1 0 465.6 1045.7Z"/>
<path class="lb" d="M465.6 1045.7 A10 3.2 0 1 0 485.6 1045.7 A10 3.2 0 1 0 465.6 1045.7Z"/>
<path class="l x" d="M464.6 1038.9 q4 -5 9 -3 q5 -3 9 1"/>
<path class="lb" d="M464.6 1038.9 q4 -5 9 -3 q5 -3 9 1"/>
<path class="l x" d="M459.2 1097.2 A17.6 12.8 -8 1 0 494 1092.4 A17.6 12.8 -8 1 0 459.2 1097.2Z"/>
<path class="lb" d="M459.2 1097.2 A17.6 12.8 -8 1 0 494 1092.4 A17.6 12.8 -8 1 0 459.2 1097.2Z"/>
<path class="l x" d="M469.6 1096.6 A10 3.2 0 1 0 489.6 1096.6 A10 3.2 0 1 0 469.6 1096.6Z"/>
<path class="lb" d="M469.6 1096.6 A10 3.2 0 1 0 489.6 1096.6 A10 3.2 0 1 0 469.6 1096.6Z"/>
<path class="l x" d="M468.6 1089.8 q4 -5 9 -3 q5 -3 9 1"/>
<path class="lb" d="M468.6 1089.8 q4 -5 9 -3 q5 -3 9 1"/>
<path class="l x" d="M427 868.4 L577 868.4"/>
<path class="lb" d="M427 868.4 L577 868.4"/>
<path class="l x" d="M382.9 903.8 L577 903.8"/>
<path class="lb" d="M382.9 903.8 L577 903.8"/>
<path class="l x" d="M472.6 949.3 L598.5 949.3"/>
<path class="lb" d="M472.6 949.3 L598.5 949.3"/>
<path class="l x" d="M480.6 990.3 L625.3 990.3"/>
<path class="lb" d="M480.6 990.3 L625.3 990.3"/>
<path class="l x" d="M488.7 1047.9 L650.7 1047.9"/>
<path class="lb" d="M488.7 1047.9 L650.7 1047.9"/>
<path class="l x" d="M494 1094.8 L625.3 1094.8"/>
<path class="lb" d="M494 1094.8 L625.3 1094.8"/>
<!-- reference numerals -->
<path class="l x" d="M268.9 780.4 C284 780 298 792 301 810.3"/>
<path class="lb" d="M268.9 780.4 C284 780 298 792 301 810.3"/>
<path class="l x" d="M179 830.7 C188 824 200 822 207 827 C213 832 217 837 220.7 842.5"/>
<path class="lb" d="M179 830.7 C188 824 200 822 207 827 C213 832 217 837 220.7 842.5"/>
<path class="l x" d="M151 907.8 C163 898 180 891 215.3 893.9"/>
<path class="lb" d="M151 907.8 C163 898 180 891 215.3 893.9"/>
<path class="l x" d="M294.6 907.8 C308 909 315 920 316 934.6"/>
<path class="lb" d="M294.6 907.8 C308 909 315 920 316 934.6"/>
<path class="l x" d="M111.4 976.4 C124 973 136 976 145.7 986"/>
<path class="lb" d="M111.4 976.4 C124 973 136 976 145.7 986"/>
<path class="l x" d="M93.9 1072.2 C108 1071 120 1076 131.1 1085.6"/>
<path class="lb" d="M93.9 1072.2 C108 1071 120 1076 131.1 1085.6"/>
<path class="d" d="M125.2 1198.8 L125.2 1268.9"/>
<path class="d" d="M220.6 1203.3 L220.6 1277"/>
<path class="k" d="M274 1289.5 L288.5 1283.5 L288.5 1296.5Z"/>
<path class="d" d="M257.8 1195.9 L314.5 1267.4"/>
<!-- t-shirt 130 -->
<path class="l x" d="M1408.8 146 C1412.7 144.3 1424.3 138.9 1432 136 C1439.7 133.1 1447.6 129.5 1454.7 128.8 C1461.8 128.1 1467.4 131.8 1474.8 131.7 C1482.2 131.6 1490.7 127.3 1499.2 128.3 C1507.7 129.4 1517.4 134.6 1526 138 C1534.6 141.4 1546.7 147.2 1550.8 149"/>
<path class="lb" d="M1408.8 146 C1412.7 144.3 1424.3 138.9 1432 136 C1439.7 133.1 1447.6 129.5 1454.7 128.8 C1461.8 128.1 1467.4 131.8 1474.8 131.7 C1482.2 131.6 1490.7 127.3 1499.2 128.3 C1507.7 129.4 1517.4 134.6 1526 138 C1534.6 141.4 1546.7 147.2 1550.8 149"/>
<path class="l x" d="M1408.8 146 L1388.8 206.3 L1427.5 219.2"/>
<path class="lb" d="M1408.8 146 L1388.8 206.3 L1427.5 219.2"/>
<path class="l x" d="M1550.8 149 L1569.5 206.3 L1533.6 217.8"/>
<path class="lb" d="M1550.8 149 L1569.5 206.3 L1533.6 217.8"/>
<path class="l x" d="M1408.8 146 C1410.3 151.3 1415.1 168.2 1418 178 C1420.9 187.8 1424.4 198.1 1426 205 C1427.6 211.9 1427.2 208.4 1427.5 219.2 C1427.8 230 1428 251.6 1427.5 270 C1427 288.4 1425.1 319.7 1424.6 329.6"/>
<path class="lb" d="M1408.8 146 C1410.3 151.3 1415.1 168.2 1418 178 C1420.9 187.8 1424.4 198.1 1426 205 C1427.6 211.9 1427.2 208.4 1427.5 219.2 C1427.8 230 1428 251.6 1427.5 270 C1427 288.4 1425.1 319.7 1424.6 329.6"/>
<path class="l x" d="M1550.8 149 C1549 153.5 1542.8 167 1540 176 C1537.2 185 1535.3 196 1534 203 C1532.7 210 1532.2 206.6 1532 217.8 C1531.8 229 1532.5 251.4 1533 270 C1533.5 288.6 1534.7 319.7 1535 329.6"/>
<path class="lb" d="M1550.8 149 C1549 153.5 1542.8 167 1540 176 C1537.2 185 1535.3 196 1534 203 C1532.7 210 1532.2 206.6 1532 217.8 C1531.8 229 1532.5 251.4 1533 270 C1533.5 288.6 1534.7 319.7 1535 329.6"/>
<path class="l x" d="M1424.6 329.6 C1429.2 330.1 1442.7 331.8 1452 332.5 C1461.3 333.2 1471.2 334 1480.5 334 C1489.8 334 1498.9 333.2 1508 332.5 C1517.1 331.8 1530.5 330.1 1535 329.6"/>
<path class="lb" d="M1424.6 329.6 C1429.2 330.1 1442.7 331.8 1452 332.5 C1461.3 333.2 1471.2 334 1480.5 334 C1489.8 334 1498.9 333.2 1508 332.5 C1517.1 331.8 1530.5 330.1 1535 329.6"/>
<path class="l x" d="M1530.8 97.3 C1512 99 1499 110 1496.3 126"/>
<path class="lb" d="M1530.8 97.3 C1512 99 1499 110 1496.3 126"/>
<!-- system 100 -->
<path class="l x" d="M1764 113 C1766 132 1760 148 1747.3 159"/>
<path class="lb" d="M1764 113 C1766 132 1760 148 1747.3 159"/>
<path class="k" d="M1727.3 170.4 L1745.5 156.5 L1750 163Z"/>
<!-- pants 132 -->
<path class="l x" d="M1679.4 275.9 C1684.2 276.5 1698.3 278.7 1708 279.5 C1717.7 280.3 1727.9 280.5 1737.6 280.5 C1747.3 280.5 1756.6 280.3 1766 279.5 C1775.4 278.7 1789.5 276.5 1794.2 275.9"/>
<path class="lb" d="M1679.4 275.9 C1684.2 276.5 1698.3 278.7 1708 279.5 C1717.7 280.3 1727.9 280.5 1737.6 280.5 C1747.3 280.5 1756.6 280.3 1766 279.5 C1775.4 278.7 1789.5 276.5 1794.2 275.9"/>
<path class="l x" d="M1677.9 286.6 C1682.9 287.2 1698 289.2 1708 290 C1718 290.8 1727.9 291.2 1737.6 291.2 C1747.3 291.2 1756.3 290.8 1766 290 C1775.7 289.2 1790.8 287.2 1795.7 286.6"/>
<path class="lb" d="M1677.9 286.6 C1682.9 287.2 1698 289.2 1708 290 C1718 290.8 1727.9 291.2 1737.6 291.2 C1747.3 291.2 1756.3 290.8 1766 290 C1775.7 289.2 1790.8 287.2 1795.7 286.6"/>
<path class="l x" d="M1679.4 275.9 L1677.9 286.6"/>
<path class="lb" d="M1679.4 275.9 L1677.9 286.6"/>
<path class="l x" d="M1794.2 275.9 L1795.7 286.6"/>
<path class="lb" d="M1794.2 275.9 L1795.7 286.6"/>
<path class="l x" d="M1677.9 286.6 C1676.6 290.4 1672 300.7 1670.2 309.6 C1668.4 318.5 1667.8 327.8 1667 340 C1666.2 352.2 1665.6 360.5 1665.6 383 C1665.6 405.5 1666.3 439.3 1667 475 C1667.7 510.7 1669.2 577 1669.6 597.4"/>
<path class="lb" d="M1677.9 286.6 C1676.6 290.4 1672 300.7 1670.2 309.6 C1668.4 318.5 1667.8 327.8 1667 340 C1666.2 352.2 1665.6 360.5 1665.6 383 C1665.6 405.5 1666.3 439.3 1667 475 C1667.7 510.7 1669.2 577 1669.6 597.4"/>
<path class="l x" d="M1795.7 286.6 C1797 290.3 1801.9 300.1 1803.5 309 C1805.1 317.9 1805 317.4 1805.5 340 C1806 362.6 1806.8 401.4 1806.4 444.3 C1806.1 487.2 1803.9 571.9 1803.4 597.4"/>
<path class="lb" d="M1795.7 286.6 C1797 290.3 1801.9 300.1 1803.5 309 C1805.1 317.9 1805 317.4 1805.5 340 C1806 362.6 1806.8 401.4 1806.4 444.3 C1806.1 487.2 1803.9 571.9 1803.4 597.4"/>
<path class="l x" d="M1669.6 597.4 L1721.6 597.4"/>
<path class="lb" d="M1669.6 597.4 L1721.6 597.4"/>
<path class="l x" d="M1751.3 597.4 L1803.4 597.4"/>
<path class="lb" d="M1751.3 597.4 L1803.4 597.4"/>
<path class="l x" d="M1721.6 597.4 C1722 584.5 1723.1 544.5 1724 520 C1724.9 495.5 1725.5 468.7 1726.8 450.4 C1728.1 432.1 1730.3 420.7 1732 410 C1733.7 399.3 1736.2 390 1737 386"/>
<path class="lb" d="M1721.6 597.4 C1722 584.5 1723.1 544.5 1724 520 C1724.9 495.5 1725.5 468.7 1726.8 450.4 C1728.1 432.1 1730.3 420.7 1732 410 C1733.7 399.3 1736.2 390 1737 386"/>
<path class="l x" d="M1737 386 C1737.7 390 1739.6 399.3 1741 410 C1742.4 420.7 1744 432.1 1745.2 450.4 C1746.5 468.7 1747.5 495.5 1748.5 520 C1749.5 544.5 1750.8 584.5 1751.3 597.4"/>
<path class="lb" d="M1737 386 C1737.7 390 1739.6 399.3 1741 410 C1742.4 420.7 1744 432.1 1745.2 450.4 C1746.5 468.7 1747.5 495.5 1748.5 520 C1749.5 544.5 1750.8 584.5 1751.3 597.4"/>
<path class="l x" d="M1737.6 291 L1737 386"/>
<path class="lb" d="M1737.6 291 L1737 386"/>
<path class="s" d="M1679.4 287 L1671 309"/>
<path class="s" d="M1794.5 287 L1803.5 309"/>
<path class="l x" d="M1704 279 L1706.5 289.5 M1771.5 279 L1776 289.5"/>
<path class="lb" d="M1704 279 L1706.5 289.5 M1771.5 279 L1776 289.5"/>
<path class="l x" d="M1807.6 262 C1793 263 1780 271 1773 283.8"/>
<path class="lb" d="M1807.6 262 C1793 263 1780 271 1773 283.8"/>
<!-- top hat 134 -->
<path class="l x" d="M1650.7 708.1 A74.3 27.6 -6.8 1 0 1798.3 690.5 A74.3 27.6 -6.8 1 0 1650.7 708.1Z"/>
<path class="lb" d="M1650.7 708.1 A74.3 27.6 -6.8 1 0 1798.3 690.5 A74.3 27.6 -6.8 1 0 1650.7 708.1Z"/>
<path class="l x" d="M1651.3 709 C1651.5 711.2 1651.8 716.1 1652.6 722 C1653.4 727.9 1655.4 737.3 1656.1 744.5 C1656.8 751.7 1656.4 758.1 1656.5 765 C1656.6 771.9 1656.5 782.6 1656.5 786.1"/>
<path class="lb" d="M1651.3 709 C1651.5 711.2 1651.8 716.1 1652.6 722 C1653.4 727.9 1655.4 737.3 1656.1 744.5 C1656.8 751.7 1656.4 758.1 1656.5 765 C1656.6 771.9 1656.5 782.6 1656.5 786.1"/>
<path class="l x" d="M1798.2 690.7 C1797.8 695.6 1795.8 711 1795.5 720 C1795.2 729 1794.9 737.4 1796.2 744.5 C1797.5 751.6 1802.6 756.7 1803.6 762.8 C1804.6 768.9 1802.6 778.1 1802.4 781.2"/>
<path class="lb" d="M1798.2 690.7 C1797.8 695.6 1795.8 711 1795.5 720 C1795.2 729 1794.9 737.4 1796.2 744.5 C1797.5 751.6 1802.6 756.7 1803.6 762.8 C1804.6 768.9 1802.6 778.1 1802.4 781.2"/>
<path class="l x" d="M1656.7 761.6 C1659.2 763.4 1665.3 769.6 1671.4 772.6 C1677.5 775.6 1685.7 778.1 1693.4 779.4 C1701.2 780.7 1709.7 780.9 1717.9 780.6 C1726.1 780.3 1734.2 779.2 1742.4 777.5 C1750.6 775.8 1758.7 773.5 1766.9 770.2 C1775.1 766.9 1786.5 760.6 1791.4 757.9 C1796.3 755.2 1795.7 754.6 1796.5 754"/>
<path class="lb" d="M1656.7 761.6 C1659.2 763.4 1665.3 769.6 1671.4 772.6 C1677.5 775.6 1685.7 778.1 1693.4 779.4 C1701.2 780.7 1709.7 780.9 1717.9 780.6 C1726.1 780.3 1734.2 779.2 1742.4 777.5 C1750.6 775.8 1758.7 773.5 1766.9 770.2 C1775.1 766.9 1786.5 760.6 1791.4 757.9 C1796.3 755.2 1795.7 754.6 1796.5 754"/>
<path class="l x" d="M1656.1 786.1 C1656.8 787.7 1657.2 792.6 1660.4 795.9 C1663.6 799.2 1668.6 803.1 1675.1 805.7 C1681.6 808.4 1691.4 810.8 1699.6 811.8 C1707.8 812.8 1715.8 812.5 1724 811.8 C1732.2 811.1 1742.8 808.7 1748.5 807.5 C1754.2 806.3 1753.4 806.9 1758.3 804.5 C1763.2 802.1 1774.6 795.2 1777.9 793.4"/>
<path class="lb" d="M1656.1 786.1 C1656.8 787.7 1657.2 792.6 1660.4 795.9 C1663.6 799.2 1668.6 803.1 1675.1 805.7 C1681.6 808.4 1691.4 810.8 1699.6 811.8 C1707.8 812.8 1715.8 812.5 1724 811.8 C1732.2 811.1 1742.8 808.7 1748.5 807.5 C1754.2 806.3 1753.4 806.9 1758.3 804.5 C1763.2 802.1 1774.6 795.2 1777.9 793.4"/>
<path class="l x" d="M1770.6 770.2 C1771.5 772 1774.9 777.1 1776.1 781.2 C1777.3 785.3 1777.6 792.5 1777.9 794.7"/>
<path class="lb" d="M1770.6 770.2 C1771.5 772 1774.9 777.1 1776.1 781.2 C1777.3 785.3 1777.6 792.5 1777.9 794.7"/>
<path class="l x" d="M1791.4 759.2 C1792.4 760.8 1795.9 765.3 1797.5 769 C1799.1 772.7 1800.6 779.2 1801.2 781.2"/>
<path class="lb" d="M1791.4 759.2 C1792.4 760.8 1795.9 765.3 1797.5 769 C1799.1 772.7 1800.6 779.2 1801.2 781.2"/>
<path class="l x" d="M1650.6 731.6 C1647.8 734.1 1637.5 741.1 1633.5 746.9 C1629.5 752.7 1626.7 758.3 1626.7 766.5 C1626.7 774.7 1628.5 787.3 1633.5 795.9 C1638.5 804.5 1646.7 812.2 1656.7 817.9 C1666.7 823.6 1683.2 828 1693.4 830.2 C1703.6 832.5 1709.7 831.8 1717.9 831.4 C1726.1 831 1734.2 830.2 1742.4 827.7 C1750.6 825.2 1756.7 822 1766.9 816.7 C1777.1 811.4 1793.4 802.9 1803.6 795.9 C1813.8 788.9 1822.4 780.9 1828 775 C1833.6 769.1 1836.3 764.9 1837.3 760.4 C1838.3 755.9 1836.8 751.9 1834.2 748.2 C1831.7 744.5 1827.9 741.4 1822 738.4 C1816.1 735.4 1802.6 731.7 1798.7 730.4"/>
<path class="lb" d="M1650.6 731.6 C1647.8 734.1 1637.5 741.1 1633.5 746.9 C1629.5 752.7 1626.7 758.3 1626.7 766.5 C1626.7 774.7 1628.5 787.3 1633.5 795.9 C1638.5 804.5 1646.7 812.2 1656.7 817.9 C1666.7 823.6 1683.2 828 1693.4 830.2 C1703.6 832.5 1709.7 831.8 1717.9 831.4 C1726.1 831 1734.2 830.2 1742.4 827.7 C1750.6 825.2 1756.7 822 1766.9 816.7 C1777.1 811.4 1793.4 802.9 1803.6 795.9 C1813.8 788.9 1822.4 780.9 1828 775 C1833.6 769.1 1836.3 764.9 1837.3 760.4 C1838.3 755.9 1836.8 751.9 1834.2 748.2 C1831.7 744.5 1827.9 741.4 1822 738.4 C1816.1 735.4 1802.6 731.7 1798.7 730.4"/>
<path class="l x" d="M1628.6 760.4 C1628.8 763 1628.2 770 1629.8 776.3 C1631.4 782.6 1633.9 792 1638.4 798.3 C1642.9 804.6 1647.5 809.7 1656.7 814.2 C1665.9 818.7 1683.2 823.2 1693.4 825.3 C1703.6 827.3 1709.7 826.9 1717.9 826.5 C1726.1 826.1 1734.2 825.4 1742.4 822.8 C1750.6 820.1 1757.7 815.7 1766.9 810.6 C1776.1 805.5 1788.3 797.9 1797.5 792.2 C1806.7 786.5 1815.7 781.2 1822 776.3 C1828.3 771.4 1833.2 765 1835.4 762.8"/>
<path class="lb" d="M1628.6 760.4 C1628.8 763 1628.2 770 1629.8 776.3 C1631.4 782.6 1633.9 792 1638.4 798.3 C1642.9 804.6 1647.5 809.7 1656.7 814.2 C1665.9 818.7 1683.2 823.2 1693.4 825.3 C1703.6 827.3 1709.7 826.9 1717.9 826.5 C1726.1 826.1 1734.2 825.4 1742.4 822.8 C1750.6 820.1 1757.7 815.7 1766.9 810.6 C1776.1 805.5 1788.3 797.9 1797.5 792.2 C1806.7 786.5 1815.7 781.2 1822 776.3 C1828.3 771.4 1833.2 765 1835.4 762.8"/>
<path class="l x" d="M1730 819.5 C1734.1 817.8 1746.4 813.5 1754.6 809.4 C1762.8 805.3 1771.3 799.4 1779.1 794.7 C1786.9 790 1794.4 785.4 1801.2 781.2 C1808 777 1814.3 773.2 1820 769.5 C1825.7 765.8 1832.8 760.9 1835.4 759.2"/>
<path class="lb" d="M1730 819.5 C1734.1 817.8 1746.4 813.5 1754.6 809.4 C1762.8 805.3 1771.3 799.4 1779.1 794.7 C1786.9 790 1794.4 785.4 1801.2 781.2 C1808 777 1814.3 773.2 1820 769.5 C1825.7 765.8 1832.8 760.9 1835.4 759.2"/>
<path class="l x" d="M1806.3 667 C1794 668 1783 680 1781.7 695"/>
<path class="lb" d="M1806.3 667 C1794 668 1783 680 1781.7 695"/>
<!-- arm band 136 -->
<path class="l x" d="M1497 1053 C1497 1050.8 1496.9 1044.3 1497 1039.6 C1497.1 1034.9 1498.1 1028.8 1497.5 1024.7 C1496.9 1020.6 1495.2 1018.1 1493.6 1014.8 C1491.9 1011.5 1489.7 1007.1 1487.6 1004.9 C1485.5 1002.7 1483.4 1001 1481.1 1001.4 C1478.8 1001.8 1474.9 1006.3 1473.7 1007.3"/>
<path class="lb" d="M1497 1053 C1497 1050.8 1496.9 1044.3 1497 1039.6 C1497.1 1034.9 1498.1 1028.8 1497.5 1024.7 C1496.9 1020.6 1495.2 1018.1 1493.6 1014.8 C1491.9 1011.5 1489.7 1007.1 1487.6 1004.9 C1485.5 1002.7 1483.4 1001 1481.1 1001.4 C1478.8 1001.8 1474.9 1006.3 1473.7 1007.3"/>
<path class="l x" d="M1473.7 1007.3 C1472.7 1007.1 1469.7 1006 1467.7 1006.3 C1465.7 1006.5 1463.9 1006.9 1461.7 1008.8 C1459.5 1010.7 1456.8 1015 1454.8 1017.8 C1452.8 1020.6 1451.9 1023.7 1449.8 1025.7 C1447.7 1027.7 1443.6 1027.4 1441.9 1029.7 C1440.2 1032 1439.9 1035.9 1439.4 1039.6 C1438.9 1043.2 1438.3 1047.4 1438.9 1051.6 C1439.5 1055.8 1440.8 1060.7 1442.9 1064.5 C1445.1 1068.3 1449 1071.2 1451.8 1074.4 C1454.6 1077.6 1455.8 1080.9 1459.8 1083.4 C1463.8 1085.9 1473 1088.3 1475.7 1089.3"/>
<path class="lb" d="M1473.7 1007.3 C1472.7 1007.1 1469.7 1006 1467.7 1006.3 C1465.7 1006.5 1463.9 1006.9 1461.7 1008.8 C1459.5 1010.7 1456.8 1015 1454.8 1017.8 C1452.8 1020.6 1451.9 1023.7 1449.8 1025.7 C1447.7 1027.7 1443.6 1027.4 1441.9 1029.7 C1440.2 1032 1439.9 1035.9 1439.4 1039.6 C1438.9 1043.2 1438.3 1047.4 1438.9 1051.6 C1439.5 1055.8 1440.8 1060.7 1442.9 1064.5 C1445.1 1068.3 1449 1071.2 1451.8 1074.4 C1454.6 1077.6 1455.8 1080.9 1459.8 1083.4 C1463.8 1085.9 1473 1088.3 1475.7 1089.3"/>
<path class="l x" d="M1473.7 1007.3 L1482.6 1022.7 M1471.7 1009 L1479.6 1023.7"/>
<path class="lb" d="M1473.7 1007.3 L1482.6 1022.7 M1471.7 1009 L1479.6 1023.7"/>
<path class="s" d="M1470 1020 L1476 1024 L1472 1028 M1449.8 1025.7 L1451.8 1029.7"/>
<path class="l x" d="M1494.6 1054.6 C1493.4 1055.2 1489.9 1056.3 1487.6 1058.5 C1485.3 1060.7 1482.2 1064.3 1480.6 1067.5 C1478.9 1070.7 1478.5 1073.8 1477.7 1077.4 C1476.9 1081 1476 1087.3 1475.7 1089.3"/>
<path class="lb" d="M1494.6 1054.6 C1493.4 1055.2 1489.9 1056.3 1487.6 1058.5 C1485.3 1060.7 1482.2 1064.3 1480.6 1067.5 C1478.9 1070.7 1478.5 1073.8 1477.7 1077.4 C1476.9 1081 1476 1087.3 1475.7 1089.3"/>
<path class="l x" d="M1502.5 1061 C1501.3 1061.9 1497.8 1063.9 1495.5 1066.5 C1493.2 1069.1 1490.6 1073.1 1488.6 1076.4 C1486.6 1079.7 1484.6 1082.9 1483.6 1086.4 C1482.6 1089.9 1482.8 1095.5 1482.6 1097.3"/>
<path class="lb" d="M1502.5 1061 C1501.3 1061.9 1497.8 1063.9 1495.5 1066.5 C1493.2 1069.1 1490.6 1073.1 1488.6 1076.4 C1486.6 1079.7 1484.6 1082.9 1483.6 1086.4 C1482.6 1089.9 1482.8 1095.5 1482.6 1097.3"/>
<path class="l x" d="M1497 1053.6 C1497.9 1054.1 1500.4 1054.5 1502.5 1056.5 C1504.6 1058.5 1506.7 1062.8 1509.5 1065.5 C1512.3 1068.2 1514.4 1069.4 1519.4 1072.4 C1524.4 1075.4 1532.7 1080.1 1539.3 1083.4 C1545.9 1086.7 1552.7 1090 1559.2 1092.3 C1565.7 1094.6 1570.1 1095.3 1578.4 1097.5 C1586.7 1099.7 1603.9 1103.9 1609 1105.2"/>
<path class="lb" d="M1497 1053.6 C1497.9 1054.1 1500.4 1054.5 1502.5 1056.5 C1504.6 1058.5 1506.7 1062.8 1509.5 1065.5 C1512.3 1068.2 1514.4 1069.4 1519.4 1072.4 C1524.4 1075.4 1532.7 1080.1 1539.3 1083.4 C1545.9 1086.7 1552.7 1090 1559.2 1092.3 C1565.7 1094.6 1570.1 1095.3 1578.4 1097.5 C1586.7 1099.7 1603.9 1103.9 1609 1105.2"/>
<path class="l x" d="M1475.7 1089.3 C1477 1090.6 1479.6 1094.6 1483.6 1097.3 C1487.6 1100 1492.2 1100.3 1499.5 1105.2 C1506.8 1110.1 1514.3 1118.8 1527.5 1126.9 C1540.7 1135 1563.5 1146.6 1578.4 1153.6 C1593.3 1160.6 1608.2 1166 1616.7 1169 C1625.2 1172 1625.2 1172.2 1629.4 1171.5 C1633.7 1170.8 1635.8 1171.2 1642.2 1165 C1648.6 1158.8 1659.6 1143.8 1667.7 1134.5 C1675.8 1125.2 1682.1 1118.8 1690.6 1109 C1699.1 1099.2 1714 1081.4 1718.7 1075.9"/>
<path class="lb" d="M1475.7 1089.3 C1477 1090.6 1479.6 1094.6 1483.6 1097.3 C1487.6 1100 1492.2 1100.3 1499.5 1105.2 C1506.8 1110.1 1514.3 1118.8 1527.5 1126.9 C1540.7 1135 1563.5 1146.6 1578.4 1153.6 C1593.3 1160.6 1608.2 1166 1616.7 1169 C1625.2 1172 1625.2 1172.2 1629.4 1171.5 C1633.7 1170.8 1635.8 1171.2 1642.2 1165 C1648.6 1158.8 1659.6 1143.8 1667.7 1134.5 C1675.8 1125.2 1682.1 1118.8 1690.6 1109 C1699.1 1099.2 1714 1081.4 1718.7 1075.9"/>
<path class="l x" d="M1609 1105.2 C1611.5 1102.9 1620.6 1095.9 1624.3 1091.2 C1628 1086.5 1628.9 1081.7 1631 1077 C1633.1 1072.3 1634.8 1067.2 1637 1063 C1639.2 1058.8 1641.4 1055.4 1644 1052 C1646.6 1048.6 1650 1045.8 1652.4 1042.8 C1654.9 1039.8 1657.7 1035.3 1658.7 1033.8"/>
<path class="lb" d="M1609 1105.2 C1611.5 1102.9 1620.6 1095.9 1624.3 1091.2 C1628 1086.5 1628.9 1081.7 1631 1077 C1633.1 1072.3 1634.8 1067.2 1637 1063 C1639.2 1058.8 1641.4 1055.4 1644 1052 C1646.6 1048.6 1650 1045.8 1652.4 1042.8 C1654.9 1039.8 1657.7 1035.3 1658.7 1033.8"/>
<path class="l x" d="M1657.5 1035 C1660.4 1037.7 1668.4 1046 1675 1051 C1681.6 1056 1691 1061.7 1697 1065 C1703 1068.3 1707 1069.6 1711 1071 C1715 1072.4 1719.3 1073.1 1721 1073.5"/>
<path class="lb" d="M1657.5 1035 C1660.4 1037.7 1668.4 1046 1675 1051 C1681.6 1056 1691 1061.7 1697 1065 C1703 1068.3 1707 1069.6 1711 1071 C1715 1072.4 1719.3 1073.1 1721 1073.5"/>
<path class="l x" d="M1652.4 1042.8 C1655.3 1045.5 1663.4 1053.8 1670 1059 C1676.6 1064.2 1685.2 1069.7 1692 1074 C1698.8 1078.3 1707.8 1083 1711 1084.8"/>
<path class="lb" d="M1652.4 1042.8 C1655.3 1045.5 1663.4 1053.8 1670 1059 C1676.6 1064.2 1685.2 1069.7 1692 1074 C1698.8 1078.3 1707.8 1083 1711 1084.8"/>
<path class="l x" d="M1721 1073.5 L1711 1084.8"/>
<path class="lb" d="M1721 1073.5 L1711 1084.8"/>
<path class="l x" d="M1658.7 1033.8 C1659.8 1029.3 1663.3 1014.6 1665 1007 C1666.7 999.4 1667.5 993.9 1669 988 C1670.5 982.1 1672.2 976.2 1674 971.4 C1675.8 966.6 1677.7 962.8 1680 959 C1682.3 955.2 1683.7 952.7 1688 948.4 C1692.3 944.1 1700.7 937.9 1706 933 C1711.3 928.1 1717.7 921.3 1720 919"/>
<path class="lb" d="M1658.7 1033.8 C1659.8 1029.3 1663.3 1014.6 1665 1007 C1666.7 999.4 1667.5 993.9 1669 988 C1670.5 982.1 1672.2 976.2 1674 971.4 C1675.8 966.6 1677.7 962.8 1680 959 C1682.3 955.2 1683.7 952.7 1688 948.4 C1692.3 944.1 1700.7 937.9 1706 933 C1711.3 928.1 1717.7 921.3 1720 919"/>
<path class="l x" d="M1604 1105 C1602.9 1107 1598.8 1111.8 1597.5 1116.7 C1596.2 1121.6 1596.5 1131.5 1596.3 1134.5"/>
<path class="lb" d="M1604 1105 C1602.9 1107 1598.8 1111.8 1597.5 1116.7 C1596.2 1121.6 1596.5 1131.5 1596.3 1134.5"/>
<path class="l x" d="M1606.5 1106.5 C1606.3 1108.8 1605.3 1115.1 1605.5 1120 C1605.7 1124.9 1607.4 1133.2 1607.8 1135.8"/>
<path class="lb" d="M1606.5 1106.5 C1606.3 1108.8 1605.3 1115.1 1605.5 1120 C1605.7 1124.9 1607.4 1133.2 1607.8 1135.8"/>
<path class="l x" d="M1610.3 1107.8 C1610.9 1110.3 1612.1 1118.1 1614 1123 C1615.9 1127.9 1620.5 1134.7 1621.8 1137"/>
<path class="lb" d="M1610.3 1107.8 C1610.9 1110.3 1612.1 1118.1 1614 1123 C1615.9 1127.9 1620.5 1134.7 1621.8 1137"/>
<path class="l x" d="M1690.6 1109 C1712 1110 1728 1122 1734 1142"/>
<path class="lb" d="M1690.6 1109 C1712 1110 1728 1122 1734 1142"/>
</g>
<g filter="url(#roughText)">
<text x="381" y="222.5" text-anchor="middle" font-size="32.5" textLength="163" lengthAdjust="spacingAndGlyphs">NETWORK</text>
<text x="542" y="115" textLength="51" lengthAdjust="spacingAndGlyphs">108</text>
<text x="440" y="452.5" text-anchor="middle" font-size="32.5" textLength="175" lengthAdjust="spacingAndGlyphs">WEARABLE</text>
<text x="440" y="490.5" text-anchor="middle" font-size="32.5" textLength="168" lengthAdjust="spacingAndGlyphs">DATABASE</text>
<text x="311" y="346" textLength="49" lengthAdjust="spacingAndGlyphs">112</text>
<text x="125.5" y="531.5" text-anchor="middle" font-size="32.5" textLength="176" lengthAdjust="spacingAndGlyphs">WEARABLE</text>
<text x="127" y="569" text-anchor="middle" font-size="32" textLength="160" lengthAdjust="spacingAndGlyphs">MANAGER</text>
<text x="9" y="435" textLength="50" lengthAdjust="spacingAndGlyphs">110</text>
<text x="441" y="709" text-anchor="middle" font-size="32" textLength="43" lengthAdjust="spacingAndGlyphs">UE</text>
<text x="334" y="625" textLength="50" lengthAdjust="spacingAndGlyphs">102</text>
<text x="1069" y="182" textLength="49" lengthAdjust="spacingAndGlyphs">114</text>
<text x="360.6" y="1087" text-anchor="middle" textLength="50" lengthAdjust="spacingAndGlyphs">122</text>
<text x="596" y="881.5" textLength="72.5" lengthAdjust="spacingAndGlyphs">128A</text>
<text x="587.5" y="919.3" textLength="70" lengthAdjust="spacingAndGlyphs">128B</text>
<text x="592.5" y="970.5" textLength="72" lengthAdjust="spacingAndGlyphs">128C</text>
<text x="631.5" y="1006.7" textLength="72.5" lengthAdjust="spacingAndGlyphs">128D</text>
<text x="664.5" y="1059" textLength="69.5" lengthAdjust="spacingAndGlyphs">128E</text>
<text x="632.5" y="1110.8" textLength="70.5" lengthAdjust="spacingAndGlyphs">128F</text>
<text x="216.4" y="792" textLength="48.5" lengthAdjust="spacingAndGlyphs">120</text>
<text x="111.5" y="839.3" textLength="69" lengthAdjust="spacingAndGlyphs">126A</text>
<text x="67.5" y="917.5" textLength="69.5" lengthAdjust="spacingAndGlyphs">124A</text>
<text x="278.5" y="966.7" textLength="69.5" lengthAdjust="spacingAndGlyphs">124B</text>
<text x="41" y="990.3" textLength="70.5" lengthAdjust="spacingAndGlyphs">124C</text>
<text x="24.5" y="1085.6" textLength="68" lengthAdjust="spacingAndGlyphs">126B</text>
<text x="90" y="1300.5" textLength="73" lengthAdjust="spacingAndGlyphs">124D</text>
<text x="189.8" y="1300.5" textLength="69.5" lengthAdjust="spacingAndGlyphs">124E</text>
<text x="292" y="1300.5" textLength="70.5" lengthAdjust="spacingAndGlyphs">124F</text>
<text x="1533.5" y="109" textLength="48" lengthAdjust="spacingAndGlyphs">130</text>
<text x="1743" y="109" textLength="48" lengthAdjust="spacingAndGlyphs">100</text>
<text x="1812" y="273.7" textLength="48" lengthAdjust="spacingAndGlyphs">132</text>
<text x="1817" y="675.7" textLength="47" lengthAdjust="spacingAndGlyphs">134</text>
<text x="1721" y="1179" textLength="48.5" lengthAdjust="spacingAndGlyphs">136</text>
</g>
</svg>
</body>
</html>
